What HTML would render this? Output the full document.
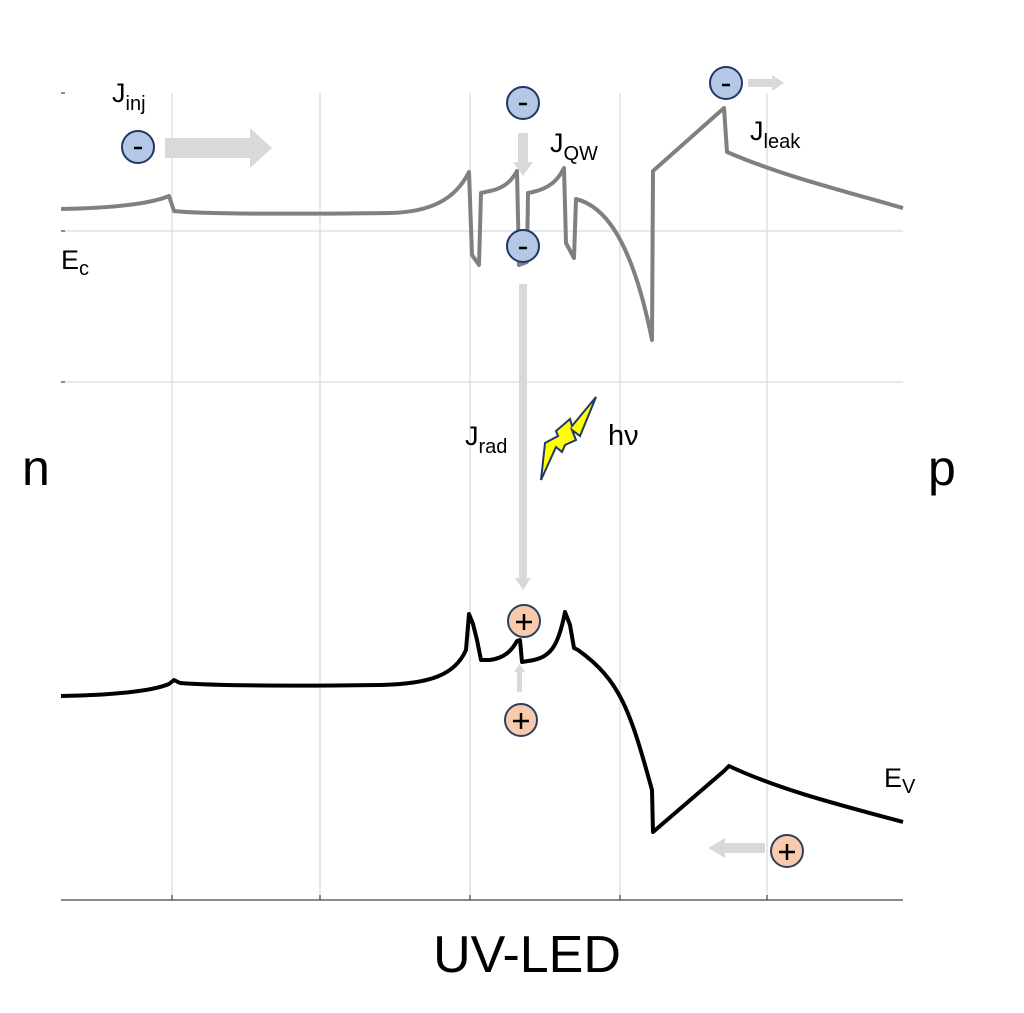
<!DOCTYPE html>
<html><head><meta charset="utf-8"><style>
html,body{margin:0;padding:0;background:#fff}
svg{display:block}
text{font-family:"Liberation Sans",sans-serif;fill:#000}
</style></head><body>
<svg width="1024" height="1013" viewBox="0 0 1024 1013">
<g stroke="#d9d9d9" stroke-width="1.2">
<line x1="172" y1="93" x2="172" y2="900"/><line x1="320" y1="93" x2="320" y2="900"/>
<line x1="470" y1="93" x2="470" y2="900"/><line x1="620" y1="93" x2="620" y2="900"/>
<line x1="767" y1="93" x2="767" y2="900"/>
<line x1="61" y1="231" x2="903" y2="231"/><line x1="61" y1="382" x2="903" y2="382"/>
</g>
<line x1="61" y1="900" x2="903" y2="900" stroke="#444" stroke-width="1.2"/>
<g stroke="#444" stroke-width="1.2"><line x1="61" y1="93" x2="65" y2="93"/><line x1="61" y1="231" x2="65" y2="231"/><line x1="61" y1="382" x2="65" y2="382"/>
<line x1="172" y1="900" x2="172" y2="895"/><line x1="320" y1="900" x2="320" y2="895"/><line x1="470" y1="900" x2="470" y2="895"/><line x1="620" y1="900" x2="620" y2="895"/><line x1="767" y1="900" x2="767" y2="895"/></g>
<path d="M61,209 C110,208 150,204 169,196 L174,211 C200,214 300,214 390,213 C430,212 455,200 469,172 L472,255 L479,265 L481,193 L490,191 C505,188 512,180 517,171 L519,265 L527,262 L528,193 L533,192 C550,188 558,180 564,168 L566,243 L574,258 L576,199 C600,205 630,230 652,340 L653,171 L724,108 L727,152 C780,175 840,190 903,208" fill="none" stroke="#808080" stroke-width="4" stroke-linejoin="round"/>
<path d="M61,696 C110,695 150,692 169,684 L174,680 L180,683 C220,686 300,686 380,685 C430,684 455,675 466,650 L469,614 L473,624 L477,640 L481,660 L490,660 C505,658 512,650 517,641 L520,640 L522,662 L528,661 C550,658 558,648 565,612 L570,625 L574,648 L578,650 C620,680 630,710 652,790 L653,832 L724,771 L729,766 C780,790 840,805 903,822" fill="none" stroke="#000" stroke-width="4" stroke-linejoin="round"/>
<g fill="#d9d9d9">
<path d="M165,138 L250,138 L250,128 L272,148 L250,168 L250,158 L165,158 Z"/>
<path d="M518,133 L528,133 L528,162 L533,162 L523,176 L513,162 L518,162 Z"/>
<path d="M519,284 L527,284 L527,578 L531,578 L523,590 L515,578 L519,578 Z"/>
<path d="M517,692 L522,692 L522,672 L525,672 L519.5,664 L514,672 L517,672 Z"/>
<path d="M765,843 L725,843 L725,838 L708,848 L725,858 L725,853 L765,853 Z"/>
<path d="M748,79 L772,79 L772,75 L784,83 L772,91 L772,87 L748,87 Z"/>
</g>
<path d="M541,480 L545,443 L558,436 L556,431 L570,419 L572,426 L596,397 L580,436 L572,430 L576,440 L565,445 L562,452 L556,447 Z" fill="#ffff00" stroke="#1f3864" stroke-width="2" stroke-linejoin="miter"/>
<g stroke="#1f3864" stroke-width="2" fill="#b4c7e7">
<circle cx="138" cy="147" r="16"/><circle cx="523" cy="103" r="16"/><circle cx="523" cy="246" r="16"/><circle cx="726" cy="83" r="16"/>
</g>
<g stroke="#000" stroke-width="2.5">
<line x1="134" y1="148" x2="142" y2="148"/><line x1="519" y1="104" x2="527" y2="104"/><line x1="519" y1="248" x2="527" y2="248"/><line x1="722" y1="85" x2="730" y2="85"/>
</g>
<g stroke="#2f3f5f" stroke-width="2" fill="#f8cbad">
<circle cx="524" cy="621" r="16"/><circle cx="521" cy="720" r="16"/><circle cx="787" cy="851" r="16"/>
</g>
<g stroke="#000" stroke-width="2.5">
<path d="M516,622 h16 M524,614 v16"/><path d="M513,721 h16 M521,713 v16"/><path d="M779,852 h16 M787,844 v16"/>
</g>
<text x="112" y="102" font-size="27">J<tspan font-size="20" dy="8">inj</tspan></text>
<text x="550" y="152" font-size="27">J<tspan font-size="20" dy="8">QW</tspan></text>
<text x="750" y="140" font-size="27">J<tspan font-size="20" dy="8">leak</tspan></text>
<text x="61" y="269" font-size="27">E<tspan font-size="20" dy="6">c</tspan></text>
<text x="465" y="445" font-size="27">J<tspan font-size="20" dy="8">rad</tspan></text>
<text x="608" y="445" font-size="29">hν</text>
<text x="884" y="787" font-size="27">E<tspan font-size="20" dy="6">V</tspan></text>
<text x="22" y="485" font-size="50">n</text>
<text x="928" y="485" font-size="50">p</text>
<text x="527" y="972" font-size="52" text-anchor="middle">UV-LED</text>
</svg>
</body></html>
